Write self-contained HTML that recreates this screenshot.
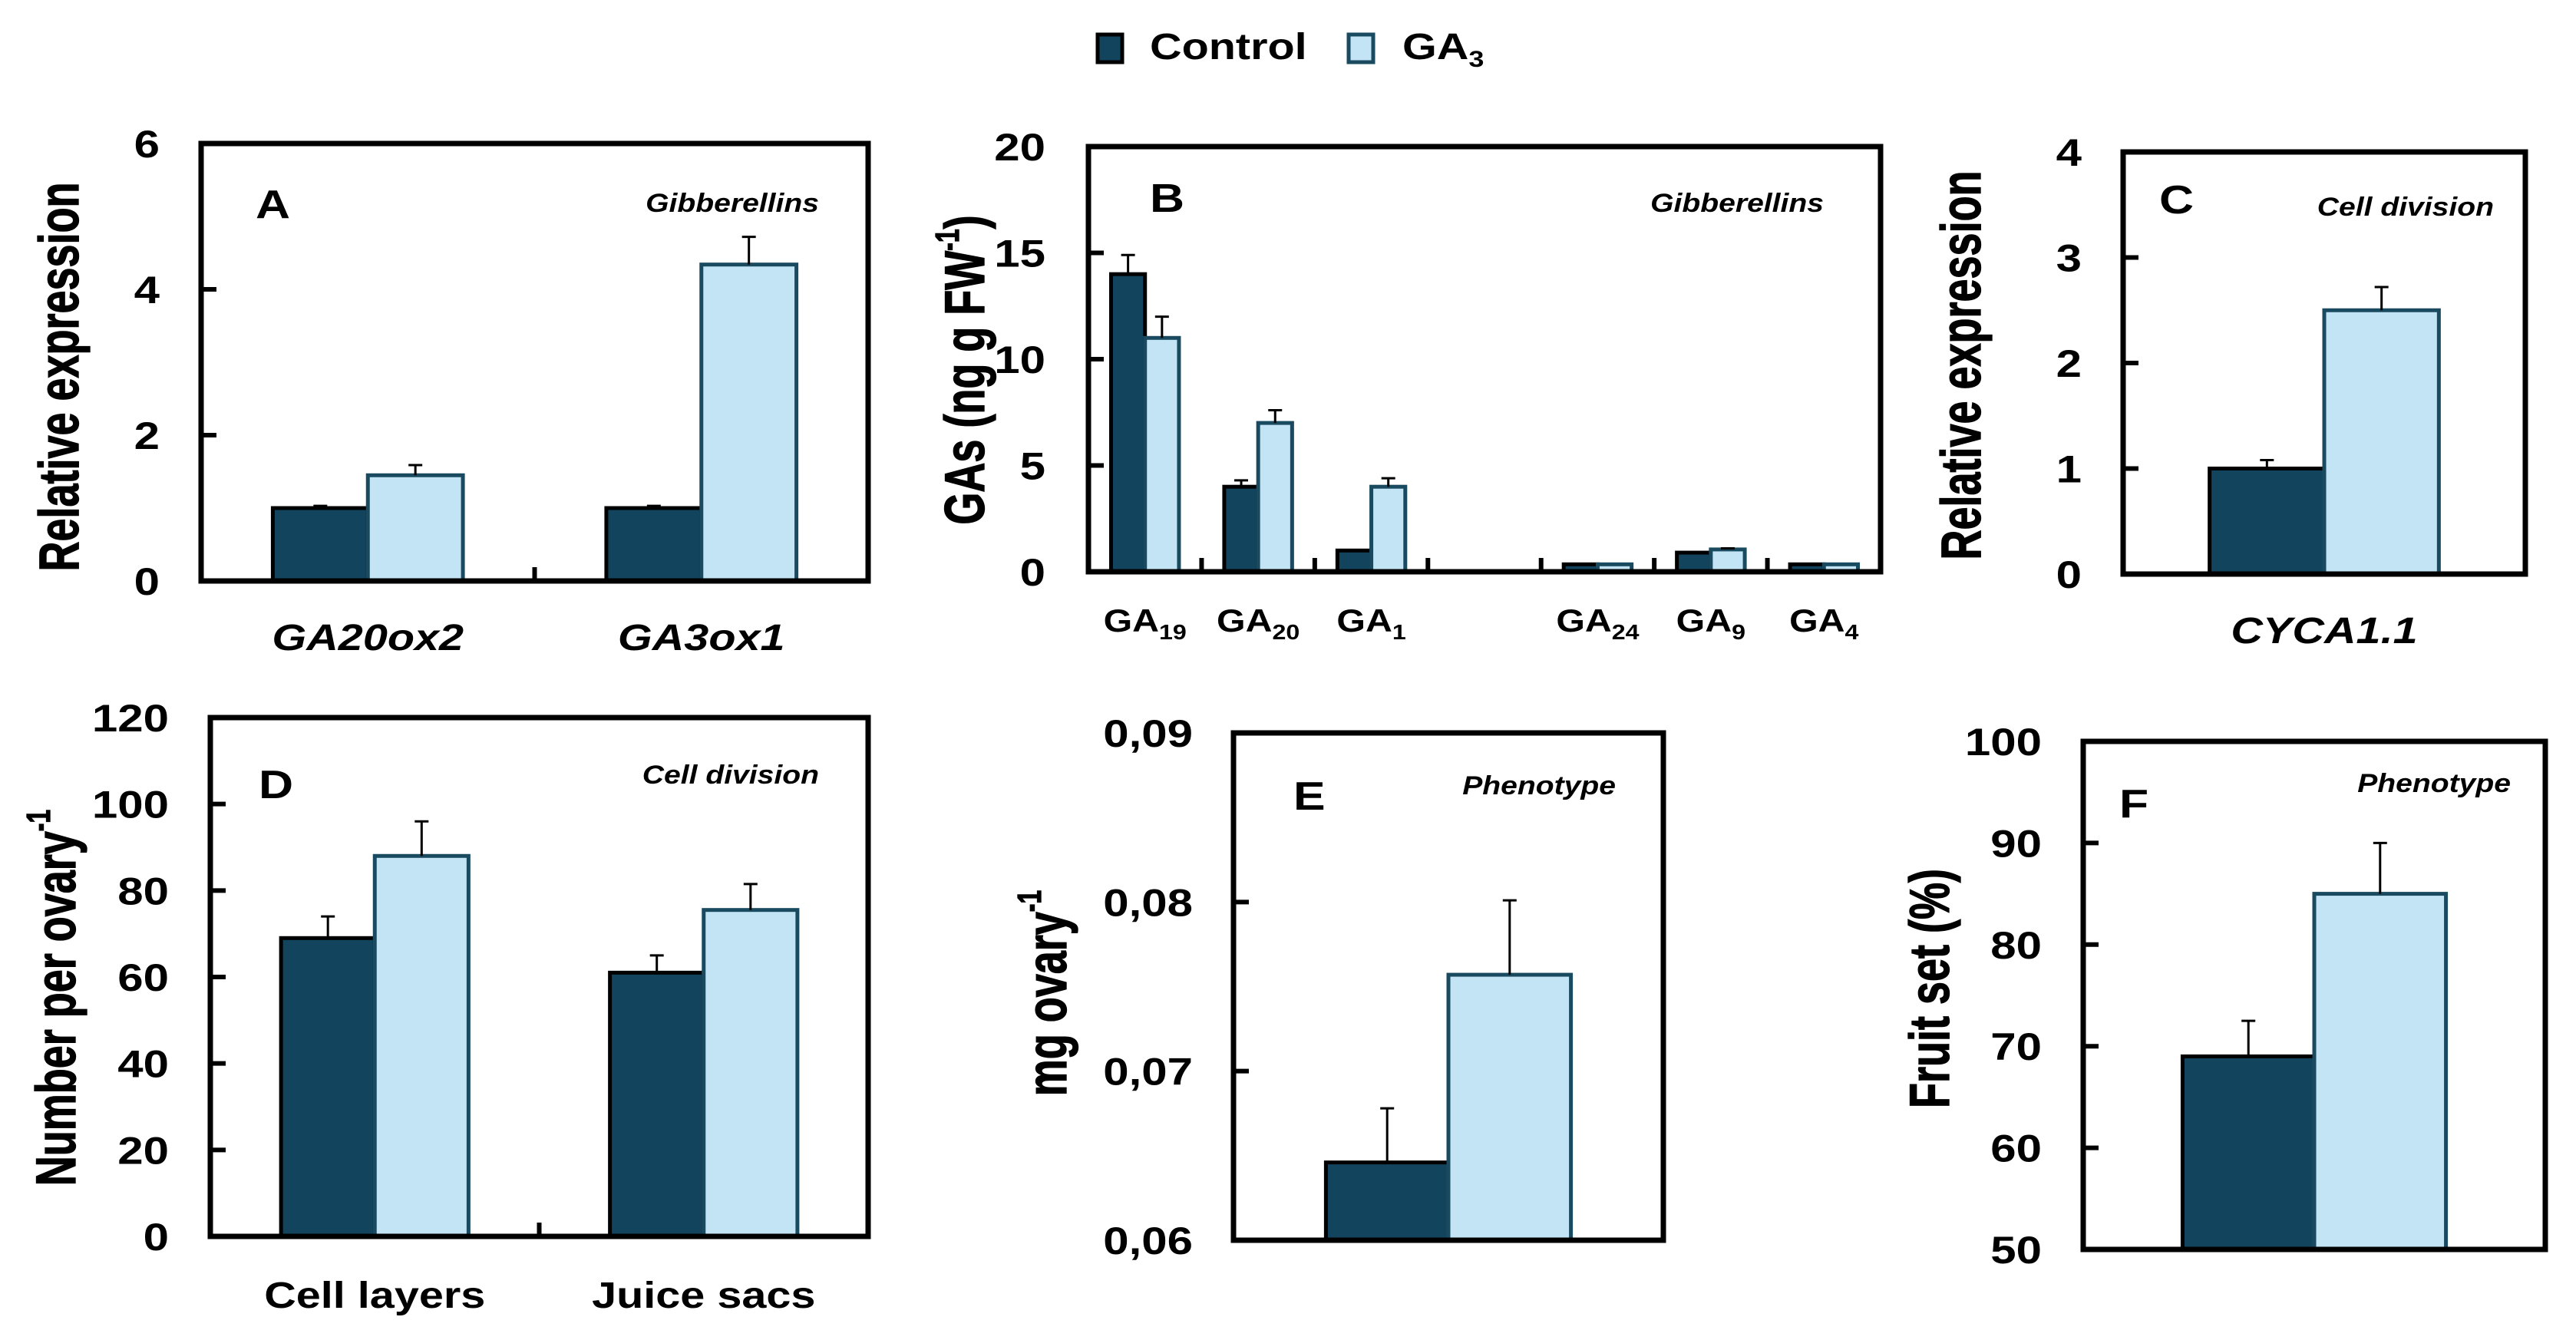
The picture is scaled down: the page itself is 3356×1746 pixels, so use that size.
<!DOCTYPE html>
<html><head><meta charset="utf-8"><style>
html,body{margin:0;padding:0;background:#fff;}
svg{display:block;}
text{font-family:"Liberation Sans",Arial,sans-serif;font-weight:bold;fill:#000;}
</style></head><body>
<svg id="fig" xmlns="http://www.w3.org/2000/svg" width="3356" height="1746" viewBox="0 0 3356 1746"></svg>
<script>
// ---- data ----
const catsA = ['GA20ox2', 'GA3ox1'];
const ctrlA = [1.0, 1.0];
const ga3A = [1.45, 4.34];
const ctrlErrA = [0.03, 0.03];
const ga3ErrA = [0.14, 0.38];
const ticksA = [0, 2, 4, 6];

const catsB = ['19', '20', '1', '', '24', '9', '4'];
const ctrlB = [14, 4, 1, null, 0.35, 0.9, 0.35];
const ga3B = [11, 7, 4, null, 0.35, 1.05, 0.35];
const ctrlErrB = [0.9, 0.3, 0, 0, 0, 0, 0];
const ga3ErrB = [1.0, 0.6, 0.4, 0, 0, 0.05, 0];
const ticksB = [0, 5, 10, 15, 20];

const catsC = ['CYCA1.1'];
const ctrlC = [1.0];
const ga3C = [2.5];
const ctrlErrC = [0.08];
const ga3ErrC = [0.22];
const ticksC = [0, 1, 2, 3, 4];

const catsD = ['Cell layers', 'Juice sacs'];
const ctrlD = [69, 61];
const ga3D = [88, 75.5];
const ctrlErrD = [5, 4];
const ga3ErrD = [8, 6];
const ticksD = [0, 20, 40, 60, 80, 100, 120];

const catsE = [''];
const ctrlE = [0.0646];
const ga3E = [0.0757];
const ctrlErrE = [0.0032];
const ga3ErrE = [0.0044];
const ticksE = [0.06, 0.07, 0.08, 0.09];
const tickLabelsE = ['0,06', '0,07', '0,08', '0,09'];

const catsF = [''];
const ctrlF = [69];
const ga3F = [85];
const ctrlErrF = [3.5];
const ga3ErrF = [5];
const ticksF = [50, 60, 70, 80, 90, 100];

const NS = 'http://www.w3.org/2000/svg';
const svg = document.getElementById('fig');
const CTRL = '#12445e', GA3 = '#c2e4f5', GA3S = '#1a4a60';

function mk(tag, attrs, parent) {
  const e = document.createElementNS(NS, tag);
  for (const k in attrs) e.setAttribute(k, attrs[k]);
  (parent || svg).appendChild(e);
  return e;
}
function txt(x, y, s, size, anchor, parent, italic, sx) {
  const t = mk('text', {transform: `translate(${x},${y}) scale(${sx || 1.2},1)`, 'font-size': size, 'text-anchor': anchor || 'start'}, parent);
  if (italic) t.setAttribute('font-style', 'italic');
  t.textContent = s;
  return t;
}

function panel(cfg) {
  const g = mk('g', {});
  
  
  const {L, T, R, B, min, max} = cfg;
  const y = v => B - (v - min) / (max - min) * (B - T);
  const n = cfg.cats.length;
  const slot = (R - L) / n;
  const bw = slot * (cfg.bwf || 0.285);
  cfg.ticks.forEach((v, i) => {
    const yy = y(v);
    if (v !== min && v !== max) {
      const tk = mk('line', {x1: L, x2: L + 20, y1: yy, y2: yy, stroke: '#000', 'stroke-width': 6}, g);
      
      
    }
    const lab = txt(cfg.tickX, yy + 18, cfg.tickLabels ? cfg.tickLabels[i] : String(v), 50, 'end', g);
    
    
  });
  (cfg.xTicks || []).forEach(k => {
    const xx = L + slot * k;
    const xt = mk('line', {x1: xx, x2: xx, y1: B, y2: B - 18, stroke: '#000', 'stroke-width': 6}, g);
    
    
  });
  cfg.cats.forEach((c, i) => {
    const cx = L + slot * (i + 0.5);
    const series = [[cfg.ctrl[i], cfg.ctrlErr[i], cx - bw, CTRL, '#000', 'control'], [cfg.ga3[i], cfg.ga3Err[i], cx, GA3, GA3S, 'ga3']];
    series.forEach(([v, e, x0, fill, st, nm]) => {
      if (v === null || v === undefined) return;
      const top = y(v);
      const r = mk('rect', {x: x0, y: top, width: bw, height: B - top, fill: fill, stroke: st, 'stroke-width': 5}, g);
      
      
      if (e > 0) {
        const ey = y(v + e), mx = x0 + bw / 2;
        const eb = mk('path', {d: `M${mx},${top} V${ey} M${mx - 9},${ey} H${mx + 9}`, stroke: '#000', 'stroke-width': 3, fill: 'none'}, g);
        
        
      }
    });
    if (cfg.catLabel) cfg.catLabel(c, cx, g);
  });
  const fr = mk('rect', {x: L, y: T, width: R - L, height: B - T, fill: 'none', stroke: '#000', 'stroke-width': 7}, g);
  
  
  const lt = txt(cfg.letter[1], cfg.letter[2], cfg.letter[0], 52, 'start', g);
  
  
  const nt = txt(cfg.note[1], cfg.note[2], cfg.note[0], 34, 'end', g, true, 1.15);
  
  
  const yt = mk('text', {transform: `translate(${cfg.yTitle[1]},${cfg.yTitle[2]}) rotate(-90) scale(1,1.35)`, 'font-size': 54, 'text-anchor': 'middle', 'dominant-baseline': 'central', stroke: '#000', 'stroke-width': 1}, g);
  yt.innerHTML = cfg.yTitle[0];
  
  
}

const italicCat = (c, cx, g, yb) => {
  const t = txt(cx, yb, c, 48, 'middle', g, true);
  
  
};

panel({id: 'a', L: 262, T: 187, R: 1131, B: 757, min: 0, max: 6, cats: catsA, ctrl: ctrlA, ga3: ga3A, ctrlErr: ctrlErrA, ga3Err: ga3ErrA, ticks: ticksA, tickX: 208, xTicks: [1],
  letter: ['A', 333, 284], note: ['Gibberellins', 1067, 276], yTitle: ['Relative expression', 77, 491],
  catLabel: (c, cx, g) => italicCat(c, cx, g, 847)});

panel({id: 'b', L: 1418, T: 191, R: 2450, B: 745, min: 0, max: 20, cats: catsB, ctrl: ctrlB, ga3: ga3B, ctrlErr: ctrlErrB, ga3Err: ga3ErrB, ticks: ticksB, tickX: 1362, xTicks: [1, 2, 3, 4, 5, 6], bwf: 0.3,
  letter: ['B', 1498, 276], note: ['Gibberellins', 2376, 276], yTitle: ['GAs (ng g FW<tspan font-size="32" dy="-16">-1</tspan><tspan dy="16">)</tspan>', 1257, 482],
  catLabel: (c, cx, g) => {
    if (!c) return;
    const t = mk('text', {transform: `translate(${cx},823) scale(1.15,1)`, 'font-size': 42, 'text-anchor': 'middle'}, g);
    t.innerHTML = 'GA<tspan font-size="28" dy="10">' + c + '</tspan>';
    
    
  }});

panel({id: 'c', L: 2766, T: 198, R: 3290, B: 748, min: 0, max: 4, cats: catsC, ctrl: ctrlC, ga3: ga3C, ctrlErr: ctrlErrC, ga3Err: ga3ErrC, ticks: ticksC, tickX: 2712,
  letter: ['C', 2813, 278], note: ['Cell division', 3249, 281], yTitle: ['Relative expression', 2555, 476],
  catLabel: (c, cx, g) => italicCat(c, cx, g, 838)});

panel({id: 'd', L: 274, T: 935, R: 1131, B: 1611, min: 0, max: 120, cats: catsD, ctrl: ctrlD, ga3: ga3D, ctrlErr: ctrlErrD, ga3Err: ga3ErrD, ticks: ticksD, tickX: 220, xTicks: [1],
  letter: ['D', 337, 1040], note: ['Cell division', 1067, 1021], yTitle: ['Number per ovary<tspan font-size="32" dy="-16">-1</tspan>', 73, 1300],
  catLabel: (c, cx, g) => {
    const t = txt(cx, 1704, c, 48, 'middle', g);
    
    
  }});

panel({id: 'e', L: 1607, T: 955, R: 2167, B: 1616, min: 0.06, max: 0.09, cats: catsE, ctrl: ctrlE, ga3: ga3E, ctrlErr: ctrlErrE, ga3Err: ga3ErrE, ticks: ticksE, tickLabels: tickLabelsE, tickX: 1554,
  letter: ['E', 1685, 1055], note: ['Phenotype', 2105, 1035], yTitle: ['mg ovary<tspan font-size="32" dy="-16">-1</tspan>', 1364, 1294]});

panel({id: 'f', L: 2714, T: 966, R: 3316, B: 1628, min: 50, max: 100, cats: catsF, ctrl: ctrlF, ga3: ga3F, ctrlErr: ctrlErrF, ga3Err: ga3ErrF, ticks: ticksF, tickX: 2660,
  letter: ['F', 2761, 1065], note: ['Phenotype', 3271, 1032], yTitle: ['Fruit set (%)', 2514, 1288]});

const lg = mk('g', {});


const s1 = mk('rect', {x: 1430, y: 45, width: 32, height: 36, fill: CTRL, stroke: '#000', 'stroke-width': 5}, lg);


const l1 = txt(1498, 77, 'Control', 48, 'start', lg);


const s2 = mk('rect', {x: 1757, y: 45, width: 32, height: 36, fill: GA3, stroke: GA3S, 'stroke-width': 5}, lg);


const l2 = mk('text', {transform: 'translate(1827,77) scale(1.2,1)', 'font-size': 48}, lg);
l2.innerHTML = 'GA<tspan font-size="30" dy="10">3</tspan>';


</script>
</body></html>
